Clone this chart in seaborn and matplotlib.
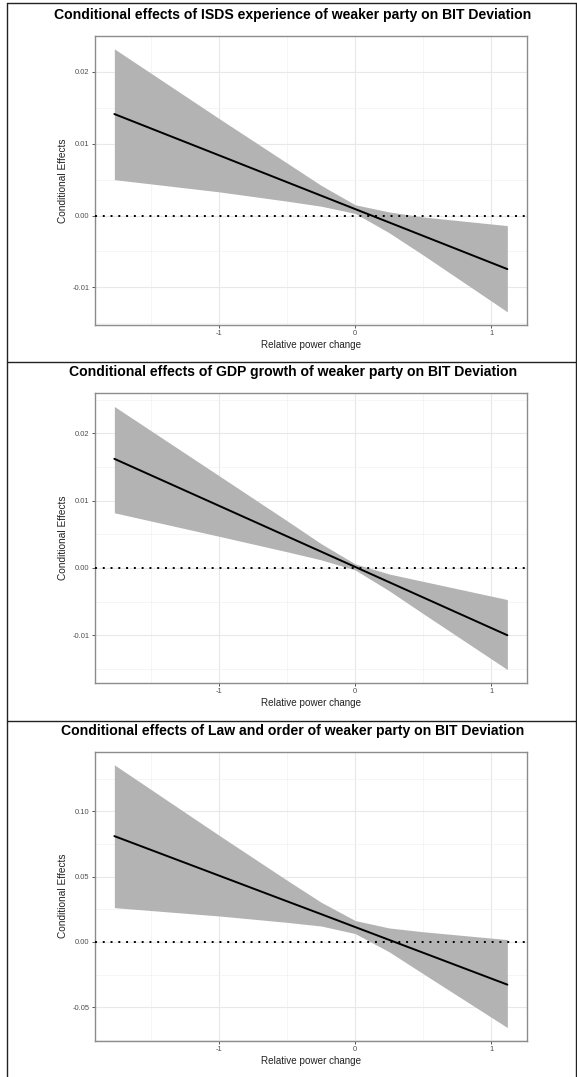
import pandas as pd
import matplotlib
matplotlib.use("Agg")
import matplotlib.pyplot as plt
import seaborn as sns
from matplotlib.lines import Line2D
from matplotlib.ticker import MultipleLocator

# Values
power_change = [-1.77, -1.0, -0.5, -0.25, 0.0, 0.25, 0.5, 1.118]

isds_effect = [0.01413, 0.00838, 0.00464, 0.00277, 0.0009, -0.00096, -0.00283, -0.00745]
isds_lower = [0.0050, 0.0033, 0.0020, 0.0013, 0.0003, -0.0024, -0.0055, -0.0134]
isds_upper = [0.0232, 0.0135, 0.0073, 0.0042, 0.0015, 0.0005, -0.0002, -0.0014]

gdp_effect = [0.01622, 0.00923, 0.00469, 0.00242, 0.00015, -0.00212, -0.00439, -0.0100]
gdp_lower = [0.0082, 0.0047, 0.0024, 0.0012, -0.0003, -0.0034, -0.0068, -0.0151]
gdp_upper = [0.0240, 0.0137, 0.0070, 0.0036, 0.0006, -0.0009, -0.0020, -0.0047]

law_effect = [0.0811, 0.0508, 0.0311, 0.0213, 0.0114, 0.00155, -0.0083, -0.0327]
law_lower = [0.0263, 0.0199, 0.0150, 0.0122, 0.0064, -0.0076, -0.0244, -0.0656]
law_upper = [0.1357, 0.0817, 0.0472, 0.0304, 0.0164, 0.0107, 0.0078, 0.0018]

titles = [
    "Conditional effects of ISDS experience of weaker party on BIT Deviation",
    "Conditional effects of GDP growth of weaker party on BIT Deviation",
    "Conditional effects of Law and order of weaker party on BIT Deviation",
]
y_major = [0.01, 0.01, 0.05]

series = [
    (isds_effect, isds_lower, isds_upper),
    (gdp_effect, gdp_lower, gdp_upper),
    (law_effect, law_lower, law_upper),
]

sns.set_theme(style="white")
plt.rcParams["font.family"] = ["Liberation Sans", "DejaVu Sans"]

W, H = 577, 1077
fig = plt.figure(figsize=(W / 100, H / 100), dpi=100)
fig.patch.set_facecolor("white")

# axes boxes in pixels: (top, bottom)
ax_px = [(35.7, 325.0), (393.3, 682.7), (751.7, 1040.7)]
title_px = [15.5, 372.0, 730.5]
left_px, right_px = 94.7, 527.0


def fmt_y(v, pos):
    s = "{:.2f}".format(v)
    return "0.00" if s == "-0.00" else s


for i, (eff, lo, hi) in enumerate(series):
    top, bot = ax_px[i]
    ax = fig.add_axes([left_px / W, 1 - bot / H, (right_px - left_px) / W, (bot - top) / H])
    df = pd.DataFrame({"x": power_change, "effect": eff, "lower": lo, "upper": hi})

    ax.fill_between(df["x"], df["lower"], df["upper"], color="#b3b3b3", linewidth=0, zorder=2)
    sns.lineplot(data=df, x="x", y="effect", ax=ax, color="black", linewidth=1.4, zorder=3)
    ax.axhline(0, color="black", linestyle=(0, (1, 3)), linewidth=1.4, zorder=4)

    xmin, xmax = min(power_change), max(power_change)
    xr = xmax - xmin
    ax.set_xlim(xmin - 0.05 * xr, xmax + 0.05 * xr)
    ymin, ymax = min(lo), max(hi)
    yr = ymax - ymin
    ax.set_ylim(ymin - 0.05 * yr, ymax + 0.05 * yr)

    ax.xaxis.set_major_locator(MultipleLocator(1))
    ax.xaxis.set_minor_locator(MultipleLocator(0.5))
    ax.yaxis.set_major_locator(MultipleLocator(y_major[i]))
    ax.yaxis.set_minor_locator(MultipleLocator(y_major[i] / 2))
    ax.yaxis.set_major_formatter(plt.FuncFormatter(fmt_y))
    ax.xaxis.set_major_formatter(plt.FuncFormatter(lambda v, p: "{:d}".format(int(round(v)))))

    ax.grid(which="major", color="#e8e8e8", linewidth=0.8, zorder=0)
    ax.grid(which="minor", color="#f2f2f2", linewidth=0.5, zorder=0)
    ax.set_axisbelow(True)
    for s in ax.spines.values():
        s.set_color("#8c8c8c")
        s.set_linewidth(1.0)

    ax.tick_params(which="major", length=2.2, width=0.7, color="#555555", labelsize=5.4,
                   labelcolor="#4d4d4d", pad=1.5, bottom=True, left=True)
    ax.tick_params(which="minor", length=0)
    ax.set_xlabel("Relative power change", fontsize=7.1, color="#222222", labelpad=2)
    ax.set_ylabel("Conditional Effects", fontsize=7.3, color="#222222", labelpad=3)

    fig.text(293 / W, 1 - title_px[i] / H, titles[i], ha="center", va="center",
             fontsize=10.1, fontweight="bold", color="black")


# frame and separators
def px_line(x0, y0, x1, y1):
    fig.add_artist(Line2D([x0 / W, x1 / W], [1 - y0 / H, 1 - y1 / H], color="#222222",
                          linewidth=1.0, transform=fig.transFigure))


px_line(7, 3, 7, H)
px_line(7, 3, 576, 3)
px_line(576, 3, 576, H)
px_line(7, 362, 577, 362)
px_line(7, 721, 577, 721)

fig.savefig("out.png", dpi=100, facecolor="white")
